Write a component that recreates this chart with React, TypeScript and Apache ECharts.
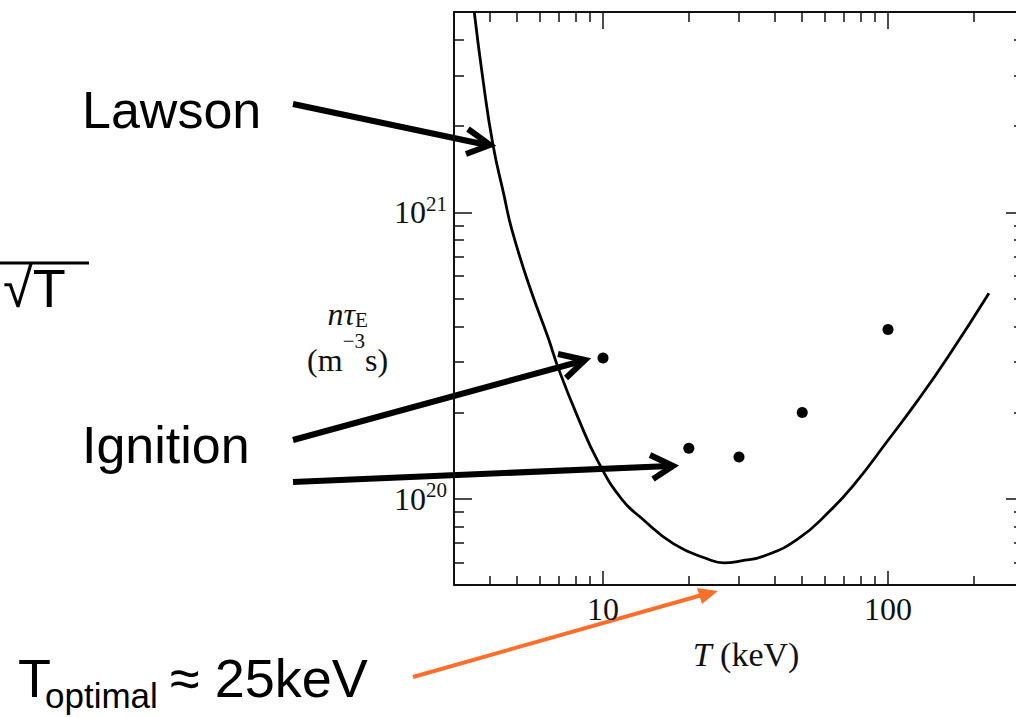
import React, { useEffect, useRef } from 'react';
import * as echarts from 'echarts';

// ---- data ----
const lawsonT = [3.53, 3.79, 4.11, 4.49, 4.79, 5.5, 6.41, 7.01, 8.17, 9.6, 11.6, 13.6, 17.7, 23.3, 26.6, 30.5, 36.7, 48.3, 63.1, 76.0, 100, 127, 162, 226];
const lawsonNtau = [5.04e21, 2.91e21, 1.72e21, 1.15e21, 8.68e20, 5.57e20, 3.66e20, 2.81e20, 1.92e20, 1.35e20, 1.0e20, 8.58e19, 6.96e19, 6.16e19, 5.97e19, 6.07e19, 6.31e19, 7.24e19, 9.15e19, 1.12e20, 1.6e20, 2.2e20, 3.12e20, 5.22e20];
const ignitionT = [10, 20, 30, 50, 100];
const ignitionNtau = [3.1e20, 1.5e20, 1.4e20, 2.0e20, 3.9e20];
const xTickLabels = ['10', '100'];
const yTickExponents = ['20', '21'];
const xRange = [3, 300];
const yRange = [5e19, 5e21];

const serif = "'Liberation Serif', 'DejaVu Serif', serif";
const sans = "'Liberation Sans', Arial, sans-serif";
const ink = '#111';
const orange = '#FF6F2C';

const isPow10 = (v: number) => Math.abs(Math.log10(v) - Math.round(Math.log10(v))) < 1e-6;

export default function App() {
  const ref = useRef<HTMLDivElement>(null);
  useEffect(() => {
    if (!ref.current) return;
    const chart = echarts.init(ref.current, undefined, { renderer: 'svg' });

    const tickStyle = { color: ink, width: 1.5 };
    const lineStyle = { color: ink, width: 2 };

    const xLabelFmt = (v: number) => {
      if (!isPow10(v)) return '';
      const s = String(Math.round(v));
      return xTickLabels.includes(s) ? s : '';
    };
    const yLabelFmt = (v: number) => {
      if (!isPow10(v)) return '';
      const e = String(Math.round(Math.log10(v)));
      return yTickExponents.includes(e) ? `{b|10}{s|${e}}` : '';
    };

    const baseX = {
      type: 'log', logBase: 10, min: xRange[0], max: xRange[1],
      axisLine: { show: true, lineStyle },
      splitLine: { show: false },
      minorSplitLine: { show: false },
    };
    const baseY = {
      type: 'log', logBase: 10, min: yRange[0], max: yRange[1],
      axisLine: { show: true, lineStyle },
      splitLine: { show: false },
      minorSplitLine: { show: false },
    };

    chart.setOption({
      animation: false,
      backgroundColor: '#fff',
      grid: { left: 454, top: 12, width: 570, height: 573, containLabel: false, outerBoundsMode: 'none' },
      xAxis: [
        {
          ...baseX,
          position: 'bottom',
          axisTick: { show: true, inside: true, length: 14, lineStyle: tickStyle },
          minorTick: { show: true, splitNumber: 9, length: 9, lineStyle: tickStyle },
          axisLabel: {
            show: true, margin: 8, fontFamily: serif, fontSize: 32, color: ink,
            showMinLabel: false, showMaxLabel: false, formatter: xLabelFmt,
          },
          name: '{i|T} (keV)',
          nameLocation: 'middle',
          nameGap: 52,
          nameTextStyle: {
            fontFamily: serif, fontSize: 34, color: ink, padding: [0, 0, 0, 14],
            rich: { i: { fontFamily: serif, fontSize: 34, fontStyle: 'italic', color: ink } },
          },
        },
        {
          ...baseX,
          position: 'top',
          axisTick: { show: true, inside: true, length: 17, lineStyle: tickStyle },
          minorTick: { show: true, splitNumber: 9, length: 10, lineStyle: tickStyle },
          axisLabel: { show: false },
        },
      ],
      yAxis: [
        {
          ...baseY,
          position: 'left',
          axisTick: { show: true, inside: true, length: 18, lineStyle: tickStyle },
          minorTick: { show: true, splitNumber: 9, length: 10, lineStyle: tickStyle },
          axisLabel: {
            show: true, margin: 7, color: ink, fontFamily: serif, fontSize: 32,
            showMinLabel: false, showMaxLabel: false,
            formatter: yLabelFmt,
            rich: {
              b: { fontFamily: serif, fontSize: 32, lineHeight: 38, color: ink },
              s: { fontFamily: serif, fontSize: 21, lineHeight: 21, verticalAlign: 'top', color: ink },
            },
          },
          name: '{i|nτ}{sub|E}\n{n|(m}{sup|−3}{n|s)}',
          nameLocation: 'middle',
          nameRotate: 0,
          nameGap: 104,
          nameTextStyle: {
            align: 'center', color: ink, fontFamily: serif, fontSize: 32, padding: [88, 0, 0, 0],
            rich: {
              i: { fontFamily: serif, fontSize: 32, fontStyle: 'italic', lineHeight: 34, color: ink },
              sub: { fontFamily: serif, fontSize: 21, lineHeight: 16, verticalAlign: 'bottom', color: ink },
              n: { fontFamily: serif, fontSize: 32, lineHeight: 58, color: ink },
              sup: { fontFamily: serif, fontSize: 21, lineHeight: 20, verticalAlign: 'top', color: ink },
            },
          },
        },
        {
          ...baseY,
          position: 'right',
          axisTick: { show: true, inside: true, length: 18, lineStyle: tickStyle },
          minorTick: { show: true, splitNumber: 9, length: 10, lineStyle: tickStyle },
          axisLabel: { show: false },
        },
      ],
      series: [
        {
          name: 'Lawson',
          type: 'line',
          xAxisIndex: 0,
          yAxisIndex: 0,
          data: lawsonT.map((t, i) => [t, lawsonNtau[i]]),
          smooth: 0.5,
          showSymbol: false,
          symbol: 'none',
          clip: true,
          lineStyle: { color: '#000', width: 2.8 },
        },
        {
          name: 'Ignition',
          type: 'scatter',
          xAxisIndex: 0,
          yAxisIndex: 0,
          data: ignitionT.map((t, i) => [t, ignitionNtau[i]]),
          symbol: 'circle',
          symbolSize: 11,
          itemStyle: { color: '#000', opacity: 1 },
        },
      ],
      graphic: {
        elements: [
          { type: 'text', x: 82, y: 110, style: { text: 'Lawson', fontFamily: sans, fontSize: 52, fill: '#000', align: 'left', verticalAlign: 'middle' } },
          { type: 'text', x: 82, y: 445, style: { text: 'Ignition', fontFamily: sans, fontSize: 52, fill: '#000', align: 'left', verticalAlign: 'middle' } },
          { type: 'text', x: 3, y: 288, style: { text: '√T', fontFamily: sans, fontSize: 54, fill: '#000', align: 'left', verticalAlign: 'middle' } },
          { type: 'line', shape: { x1: 0, y1: 263, x2: 89, y2: 263 }, style: { stroke: '#000', lineWidth: 3 } },
          { type: 'text', x: 18, y: 678, style: { text: 'T', fontFamily: sans, fontSize: 54, fill: '#000', align: 'left', verticalAlign: 'middle' } },
          { type: 'text', x: 45, y: 695, style: { text: 'optimal', fontFamily: sans, fontSize: 35, fill: '#000', align: 'left', verticalAlign: 'middle' } },
          { type: 'text', x: 170, y: 678, style: { text: '≈ 25keV', fontFamily: sans, fontSize: 54, fill: '#000', align: 'left', verticalAlign: 'middle' } },
          // Lawson arrow
          { type: 'line', shape: { x1: 293, y1: 104, x2: 487, y2: 145 }, style: { stroke: '#000', lineWidth: 6 } },
          { type: 'polyline', shape: { points: [[468, 129], [490, 145], [466, 154]] }, style: { stroke: '#000', lineWidth: 6, fill: null } },
          // Ignition arrows
          { type: 'line', shape: { x1: 293, y1: 440, x2: 582, y2: 361 }, style: { stroke: '#000', lineWidth: 6 } },
          { type: 'polyline', shape: { points: [[558, 354], [585, 360], [566, 378]] }, style: { stroke: '#000', lineWidth: 6, fill: null } },
          { type: 'line', shape: { x1: 293, y1: 482, x2: 670, y2: 466 }, style: { stroke: '#000', lineWidth: 6 } },
          { type: 'polyline', shape: { points: [[650, 455], [673, 466], [653, 479]] }, style: { stroke: '#000', lineWidth: 6, fill: null } },
          // orange arrow
          { type: 'line', shape: { x1: 413, y1: 677, x2: 702, y2: 595 }, style: { stroke: orange, lineWidth: 4 } },
          { type: 'polygon', shape: { points: [[718, 591], [697, 588], [702, 604]] }, style: { fill: orange } },
        ],
      },
    });
    return () => chart.dispose();
  }, []);
  return <div ref={ref} style={{ position: 'absolute', left: 0, top: 0, width: 1016, height: 717 }} />;
}
